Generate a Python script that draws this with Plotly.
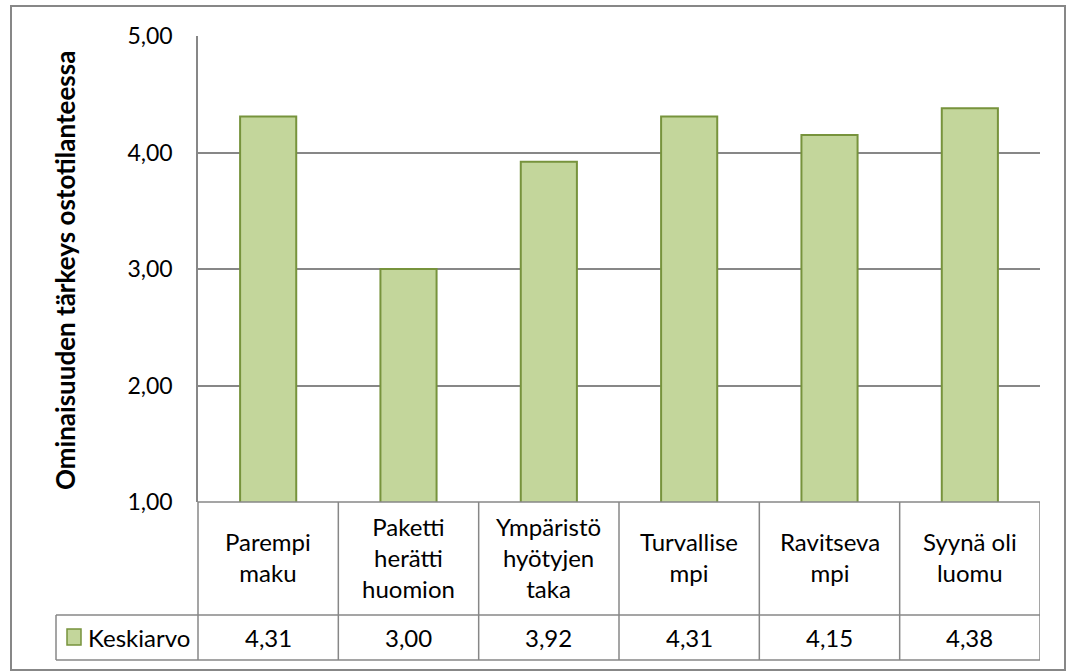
import plotly.graph_objects as go

categories = ["Parempi<br>maku", "Paketti<br>herätti<br>huomion", "Ympäristö<br>hyötyjen<br>taka",
              "Turvallise<br>mpi", "Ravitseva<br>mpi", "Syynä oli<br>luomu"]
values = [4.31, 3.00, 3.92, 4.31, 4.15, 4.38]
series_name = "Keskiarvo"
y_title = "Ominaisuuden tärkeys ostotilanteessa"
y_ticks = [1, 2, 3, 4, 5]

FONT = "Lato, Calibri, Carlito, sans-serif"
GRAY = "#878787"
FILL = "#C3D69B"
EDGE = "#77933C"

W, H = 1071, 671
L, R, T, B = 198, 31, 36, 169
pw, ph = W - L - R, H - T - B

def px_y(py):
    return (H - B - py) / ph

def px_x(px):
    return (px - L) / pw

xs = list(range(len(categories)))

fig = go.Figure()
fig.add_trace(go.Bar(
    x=xs, y=values, width=0.4, name=series_name,
    marker=dict(color=FILL, line=dict(color=EDGE, width=2)),
    showlegend=False, cliponaxis=True,
))

shapes = []
row1_bot = px_y(615)
row2_bot = px_y(660)
leg_left = px_x(56)
for yy, x0 in [(0, 0), (row1_bot, leg_left), (row2_bot, leg_left)]:
    shapes.append(dict(type="line", xref="paper", yref="paper", x0=x0, x1=1, y0=yy, y1=yy,
                       line=dict(color=GRAY, width=1.5), layer="above"))
shapes.append(dict(type="line", xref="paper", yref="paper", x0=0, x1=0, y0=0, y1=row2_bot,
                   line=dict(color=GRAY, width=1.5)))
shapes.append(dict(type="line", xref="paper", yref="paper", x0=leg_left, x1=leg_left, y0=row1_bot, y1=row2_bot,
                   line=dict(color=GRAY, width=1.5)))
for i in range(len(categories)):
    xb = i + 0.5
    shapes.append(dict(type="line", xref="x", yref="paper", x0=xb, x1=xb, y0=0, y1=row2_bot,
                       line=dict(color=GRAY, width=1.5)))
shapes.append(dict(type="rect", xref="paper", yref="paper", x0=px_x(67), x1=px_x(81),
                   y0=px_y(645), y1=px_y(629), fillcolor=FILL, line=dict(color=EDGE, width=1.5)))
shapes.append(dict(type="rect", xref="paper", yref="paper", x0=px_x(11), x1=px_x(1065),
                   y0=px_y(670), y1=px_y(6), line=dict(color=GRAY, width=2), fillcolor="rgba(0,0,0,0)"))

TXT = 24
annotations = []
for i, c in enumerate(categories):
    annotations.append(dict(x=i, xref="x", y=px_y(557), yref="paper", text=c,
                            showarrow=False, xanchor="center", yanchor="middle",
                            font=dict(family=FONT, size=TXT, color="#000")))
    annotations.append(dict(x=i, xref="x", y=(row1_bot + row2_bot) / 2, yref="paper",
                            text=f"{values[i]:.2f}".replace(".", ","),
                            showarrow=False, xanchor="center", yanchor="middle",
                            font=dict(family=FONT, size=TXT, color="#000")))
annotations.append(dict(x=px_x(86), xref="paper", y=(row1_bot + row2_bot) / 2, yref="paper",
                        text=series_name, showarrow=False, xanchor="left", yanchor="middle",
                        font=dict(family=FONT, size=TXT, color="#000")))
annotations.append(dict(x=px_x(65), xref="paper", y=px_y(271), yref="paper", text=f"<b>{y_title}</b>",
                        textangle=-90, showarrow=False, xanchor="center", yanchor="middle",
                        font=dict(family=FONT, size=26, color="#000")))

fig.update_layout(
    width=W, height=H, margin=dict(l=L, r=R, t=T, b=B),
    paper_bgcolor="white", plot_bgcolor="white",
    separators=", ",
    font=dict(family=FONT, size=TXT, color="#000"),
    xaxis=dict(range=[-0.5, len(categories) - 0.5], showticklabels=False, showgrid=False,
               zeroline=False, showline=False, ticks=""),
    yaxis=dict(range=[1, 5], tickvals=y_ticks, tickformat=".2f", showgrid=True, gridcolor=GRAY,
               gridwidth=1.5, zeroline=False, showline=True, linecolor=GRAY, linewidth=1.5,
               ticks="", ticklabelstandoff=19, tickfont=dict(family=FONT, size=23, color="#000")),
    shapes=shapes, annotations=annotations, bargap=0.6,
)

fig.write_html("out.html")
